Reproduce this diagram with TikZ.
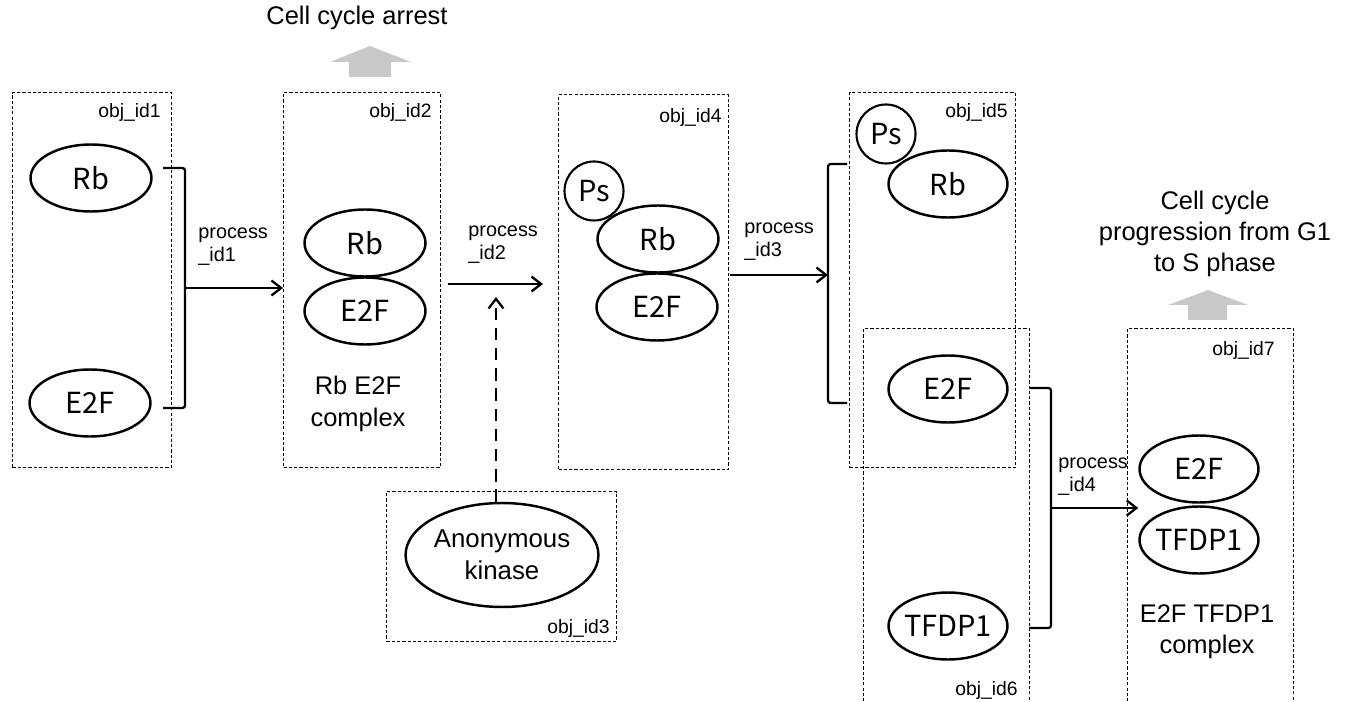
\documentclass[tikz,border=0pt]{standalone}
\usepackage{fontspec}
\setmainfont{Liberation Sans}
\newfontfamily\entfont{Noto Sans CJK JP}
\usetikzlibrary{shapes.geometric,arrows.meta}
\begin{document}
\begin{tikzpicture}[x=0.02cm,y=-0.02cm]
\tikzset{
 ent/.style={ellipse,draw,line width=1.4pt,minimum width=2.42cm,minimum height=1.34cm,inner sep=0pt,font=\entfont\fontsize{16.5}{19}\selectfont},
 psc/.style={circle,draw,line width=1.2pt,minimum size=1.18cm,inner sep=0pt,font=\entfont\fontsize{16.5}{19}\selectfont},
 objbox/.style={draw,line width=0.7pt,dash pattern=on 1.8pt off 1.2pt,inner sep=0pt,anchor=north west},
 objlbl/.style={font=\fontsize{11}{13}\selectfont,anchor=east,inner sep=0pt},
 proclbl/.style={font=\fontsize{11.3}{13}\selectfont,align=left,anchor=west,inner sep=0pt},
 bigtxt/.style={font=\fontsize{14.5}{17.8}\selectfont,align=center,inner sep=0pt},
 conn/.style={line width=1.3pt,rounded corners=1.5pt},
 arr/.style={line width=1.3pt,-{Straight Barb[length=5.5pt,width=8.5pt]}},
 modarr/.style={arr,dash pattern=on 7pt off 4.5pt},
 blockarr/.style={fill=black!21,draw=none}
}
\useasboundingbox (0,0) rectangle (1355,702);
% boxes
\node[objbox,minimum width=3.18cm,minimum height=7.5cm] (b1) at (12,92) {};
\node[objbox,minimum width=3.14cm,minimum height=7.5cm] (b2) at (283,92) {};
\node[objbox,minimum width=4.6cm,minimum height=3cm] (b3) at (386,491) {};
\node[objbox,minimum width=3.4cm,minimum height=7.5cm] (b4) at (558,94) {};
\node[objbox,minimum width=3.32cm,minimum height=7.5cm] (b5) at (849,92) {};
\node[objbox,minimum width=3.32cm,minimum height=7.9cm] (b6) at (863,328) {};
\node[objbox,minimum width=3.32cm,minimum height=7.9cm] (b7) at (1127,328) {};
% box labels
\node[objlbl] (l1) at (161,113) {obj\_id1};
\node[objlbl] (l2) at (432,113) {obj\_id2};
\node[objlbl] (l3) at (610,628) {obj\_id3};
\node[objlbl] (l4) at (722,118) {obj\_id4};
\node[objlbl] (l5) at (1008,113) {obj\_id5};
\node[objlbl] (l6) at (1018,690) {obj\_id6};
\node[objlbl] (l7) at (1275,351) {obj\_id7};
% entities
\node[ent] (r1) at (91,178) {Rb};
\node[ent] (f1) at (90,403) {E2F};
\node[ent] (r2) at (365,243) {Rb};
\node[ent] (f2) at (365,311) {E2F};
\node[psc] (ps4) at (594,191) {Ps};
\node[ent] (r4) at (658,239) {Rb};
\node[ent] (f4) at (657,307) {E2F};
\node[psc] (ps5) at (886,134) {Ps};
\node[ent,minimum width=2.38cm] (r5) at (948,184) {Rb};
\node[ent,minimum width=2.38cm] (f6) at (948,389) {E2F};
\node[ent,minimum width=2.38cm] (t6) at (948,626) {\makebox[0pt]{TFDP1}};
\node[ent,minimum width=2.38cm] (f7) at (1199,469) {E2F};
\node[ent,minimum width=2.38cm] (t7) at (1199,540) {\makebox[0pt]{TFDP1}};
\node[ellipse,draw,line width=1.4pt,minimum width=3.6cm,minimum height=2.08cm,inner sep=0pt,font=\fontsize{14.7}{18}\selectfont,align=center] (kin) at (502,555) {Anonymous\\kinase};
% process 1
\coordinate (p1a) at (163,168);
\coordinate (p1j) at (185,288);
\coordinate (p1b) at (163,408);
\draw[conn] (p1a) -| (p1j) |- (p1b);
\draw[arr] (p1j) -- (b2.west |- p1j);
% process 2
\coordinate (p2s) at (448,284);
\coordinate (p2e) at (543,284);
\coordinate (m2) at (496,297);
\draw[arr] (p2s) -- (p2e);
\draw[modarr] (kin.north -| m2) -- (m2);
% process 3
\coordinate (p3s) at (730,275);
\coordinate (p3a) at (847,164);
\coordinate (p3j) at (828,275);
\coordinate (p3b) at (847,403);
\draw[arr] (p3s) -- (p3j);
\draw[conn] (p3a) -| (p3j) |- (p3b);
% process 4
\coordinate (p4a) at (1029,388);
\coordinate (p4j) at (1051,508);
\coordinate (p4b) at (1029,628);
\draw[conn] (p4a) -| (p4j) |- (p4b);
\draw[arr] (p4j) -- (f7.west |- p4j);
% process labels
\node[proclbl] (pl1) at (198,247) {process\\\_id1};
\node[proclbl] (pl2) at (468,245) {process\\\_id2};
\node[proclbl] (pl3) at (744,242) {process\\\_id3};
\node[proclbl] (pl4) at (1058,477) {process\\\_id4};
% texts
\node[bigtxt] (t1) at (357,18) {Cell cycle arrest};
\node[bigtxt] (t2) at (1215,234) {Cell cycle\\progression from G1\\to S phase};
\node[bigtxt] (c2) at (358,404) {Rb E2F\\complex};
\node[bigtxt] (c7) at (1207,632) {E2F TFDP1\\complex};
% block arrows
\fill[blockarr] (349,77) -- (349,62) -- (330,62) -- (370,46) -- (411,62) -- (391,62) -- (391,77) -- cycle;
\fill[blockarr] (1188,320) -- (1188,305) -- (1168,305) -- (1208,290) -- (1248,305) -- (1227,305) -- (1227,320) -- cycle;
\end{tikzpicture}
\end{document}
